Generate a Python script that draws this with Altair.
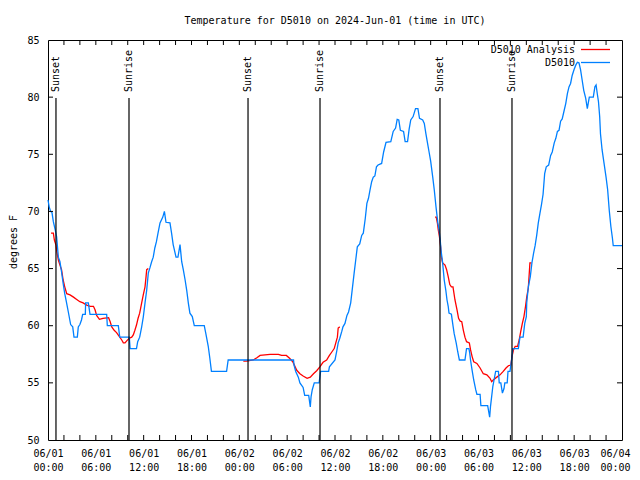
import altair as alt
import pandas as pd

# ---- data (hours since 2024-06-01 00:00 UTC, degrees F) ----
blue_h = [0.0, 0.15, 0.33, 0.5, 0.67, 0.9, 1.08, 1.3, 1.5, 1.7, 1.9, 2.1, 2.3, 2.55, 2.84, 3.1, 3.26, 3.68, 3.8, 4.0,
          4.2, 4.35, 4.68, 4.72, 5.06, 5.27, 7.36, 7.44, 8.82, 9.0, 10.2, 10.3, 11.1, 11.25, 11.5, 11.75, 11.96, 12.17,
          12.38, 12.58, 12.8, 13.0, 13.2, 13.4, 13.6, 13.8, 14.05, 14.4, 14.6, 14.8, 15.3, 15.5, 15.7, 16.06, 16.3,
          16.56, 16.77, 16.97, 17.2, 17.4, 17.6, 17.8, 18.1, 18.35, 19.6, 19.8, 20.1, 20.3, 20.5, 22.4, 22.6, 30.8,
          30.86, 31.07, 31.4, 31.6, 32.0, 32.2, 32.7, 32.9, 33.0, 33.15, 33.4, 34.0, 34.2, 35.2, 35.3, 36.0, 36.2,
          36.4, 36.6, 36.85, 37.0, 37.25, 37.5, 37.7, 37.97, 38.2, 38.4, 38.6, 38.8, 39.1, 39.35, 39.55, 39.8, 40.0,
          40.2, 40.4, 40.6, 40.8, 41.0, 41.2, 41.4, 41.85, 42.1, 42.4, 43.0, 43.3, 43.6, 43.8, 44.0, 44.2, 44.6,
          44.8, 45.1, 45.3, 45.5, 45.8, 46.1, 46.4, 46.6, 47.0, 47.2, 47.4, 47.6, 47.8, 48.0, 48.26, 48.45, 48.67,
          48.9, 49.05, 49.2, 49.3, 49.5, 49.7, 49.9, 50.05, 50.2, 50.3, 50.6, 50.8, 50.95, 51.2, 51.4, 51.6, 52.3,
          52.5, 52.8, 52.9, 53.0, 53.2, 53.4, 53.65, 53.8, 54.2, 54.3, 55.15, 55.4, 55.5, 55.65, 55.8, 55.95, 56.15,
          56.5, 56.6, 56.8, 57.0, 57.2, 57.3, 57.6, 57.7, 57.95, 58.15, 58.3, 59.0, 59.2, 59.6, 59.8, 60.0, 60.05,
          60.25, 60.5, 60.7, 60.9, 61.1, 61.3, 61.5, 61.7, 61.9, 62.1, 62.3, 62.5, 62.8, 63.05, 63.25, 63.5, 63.7,
          63.9, 64.1, 64.3, 64.5, 64.7, 64.95, 65.15, 65.35, 65.55, 65.75, 65.98, 66.2, 66.4, 66.6, 66.8, 67.0,
          67.2, 67.45, 67.65, 67.8, 67.9, 68.4, 68.6, 68.75, 68.9, 69.05, 69.2, 69.3, 69.5, 69.75, 70.0, 70.2,
          70.4, 70.6, 70.8, 70.9, 72.0]
blue_v = [71.0, 70.4, 70.0, 69.9, 69.1, 68.4, 67.8, 66.0, 65.6, 64.7, 63.7, 62.8, 62.1, 61.2, 60.1, 59.9, 59.0, 59.0,
          59.9, 60.1, 60.5, 61.0, 61.0, 62.0, 62.0, 61.0, 61.0, 60.0, 60.0, 59.0, 59.0, 58.0, 58.0, 58.6, 59.0, 59.9,
          60.8, 62.0, 63.1, 64.6, 65.1, 65.6, 66.0, 66.8, 67.35, 68.1, 69.0, 69.5, 70.0, 69.05, 69.0, 68.1, 67.1,
          66.0, 66.0, 67.1, 65.6, 64.9, 64.0, 63.1, 62.0, 61.1, 60.8, 60.0, 60.0, 59.3, 58.2, 57.15, 56.0, 56.0,
          57.0, 57.0, 56.56, 56.0, 55.5, 55.0, 54.6, 53.9, 53.9, 52.9, 53.8, 54.4, 55.0, 55.0, 56.0, 56.0, 56.4,
          57.0, 57.7, 58.5, 58.9, 59.5, 59.9, 60.2, 60.9, 61.2, 62.0, 63.4, 64.6, 65.75, 66.9, 67.15, 67.9, 68.1,
          69.4, 70.7, 71.15, 71.9, 72.6, 73.0, 73.1, 73.9, 74.06, 74.2, 75.2, 76.05, 76.1, 77.0, 77.3, 78.06, 78.0,
          77.1, 77.0, 76.1, 76.1, 77.2, 78.0, 78.3, 79.0, 79.0, 78.15, 78.0, 77.7, 76.8, 76.0, 75.2, 74.4, 73.0,
          71.9, 70.4, 69.0, 68.4, 67.5, 66.6, 65.5, 64.0, 63.1, 62.25, 61.7, 61.1, 61.0, 60.0, 59.3, 58.5, 57.7,
          57.0, 57.0, 58.0, 58.0, 57.6, 57.0, 56.1, 55.25, 54.4, 54.0, 54.0, 53.0, 53.0, 52.0, 52.9, 53.8, 54.7,
          55.25, 56.0, 56.0, 55.0, 55.0, 54.1, 54.5, 55.0, 55.0, 56.0, 56.0, 57.0, 58.0, 58.0, 59.0, 59.0, 60.2,
          60.8, 62.0, 63.4, 64.3, 65.5, 66.3, 67.0, 67.9, 69.0, 69.8, 70.6, 71.5, 73.3, 73.9, 74.06, 74.9, 75.2,
          76.0, 76.4, 77.0, 77.1, 77.9, 78.1, 78.7, 79.46, 80.3, 80.9, 81.2, 81.9, 82.4, 82.8, 83.05, 83.0, 82.4,
          81.5, 80.6, 79.9, 79.0, 79.6, 80.0, 80.0, 80.9, 81.06, 80.3, 79.6, 78.3, 76.8, 75.4, 74.2, 73.0, 71.9,
          70.1, 68.7, 67.65, 67.0, 67.0]

red1_h = [0.38, 0.67, 0.8, 1.0, 1.1, 1.3, 1.5, 1.7, 1.9, 2.1, 2.35, 2.76, 3.2, 3.6, 4.0, 4.4, 4.85, 5.3, 5.7, 5.9,
          6.1, 6.45, 6.9, 7.6, 7.8, 8.0, 8.3, 8.6, 9.0, 9.25, 9.45, 9.66, 9.9, 10.2, 10.5, 10.7, 10.9, 11.1, 11.3,
          11.5, 11.75, 11.95, 12.17, 12.3, 12.38, 12.58]
red1_v = [68.1, 68.1, 67.5, 67.06, 66.5, 65.75, 65.3, 64.9, 64.0, 63.4, 62.8, 62.7, 62.5, 62.3, 62.1, 62.0, 61.8,
          61.7, 61.7, 61.4, 60.9, 60.56, 60.65, 60.7, 60.35, 59.9, 59.6, 59.4, 59.0, 58.75, 58.5, 58.5, 58.7, 58.9,
          59.0, 59.2, 59.6, 60.06, 60.65, 61.1, 62.0, 62.7, 63.4, 64.3, 64.9, 65.0]
red2_h = [24.5, 24.9, 25.75, 26.2, 26.6, 27.85, 28.9, 29.3, 29.9, 30.3, 30.7, 31.0, 31.2, 31.6, 32.0, 32.5, 32.9,
          33.3, 33.7, 34.1, 34.5, 34.95, 35.3, 35.6, 35.9, 36.1, 36.3, 36.4, 36.6]
red2_v = [56.9, 56.9, 57.0, 57.2, 57.4, 57.5, 57.5, 57.4, 57.4, 57.15, 56.85, 56.4, 56.1, 55.8, 55.6, 55.4, 55.5,
          55.8, 56.06, 56.4, 56.8, 57.0, 57.4, 57.7, 58.0, 58.5, 59.0, 59.8, 59.9]
red3_h = [48.55, 48.7, 48.85, 48.95, 49.1, 49.25, 49.35, 49.5, 49.8, 50.0, 50.2, 50.4, 50.6, 50.8, 51.05, 51.3,
          51.5, 51.7, 51.9, 52.1, 52.3, 52.5, 52.85, 53.0, 53.2, 53.4, 53.8, 54.2, 54.6, 55.05, 55.45, 55.65, 55.85,
          56.3, 56.7, 57.1, 57.45, 57.75, 58.05, 58.2, 58.4, 58.6, 58.9, 59.1, 59.3, 59.5, 59.7, 59.9, 60.05,
          60.25, 60.45, 60.65]
red3_v = [69.5, 69.5, 68.96, 68.4, 67.8, 66.9, 66.0, 65.5, 65.3, 64.9, 64.3, 63.6, 63.4, 63.4, 62.25, 61.4, 60.65,
          60.4, 60.35, 59.6, 59.0, 58.6, 58.5, 57.9, 57.3, 56.85, 56.7, 56.3, 55.8, 55.7, 55.4, 55.1, 55.25, 55.5,
          55.7, 56.0, 56.3, 56.5, 56.56, 57.3, 57.9, 58.2, 58.2, 58.75, 59.5, 60.2, 60.8, 61.7, 62.5, 63.3, 65.5,
          65.5]

sun_h = [1.0, 10.16, 25.09, 34.12, 49.17, 58.2]
sun_label = ["Sunset", "Sunrise", "Sunset", "Sunrise", "Sunset", "Sunrise"]

x_tick_values = [0, 6, 12, 18, 24, 30, 36, 42, 48, 54, 60, 66, 72]
x_minor_ticks = [2, 4, 6, 8, 10, 12, 14, 16, 18, 20, 22, 24, 26, 28, 30, 32, 34, 36, 38, 40, 42, 44, 46, 48,
                 50, 52, 54, 56, 58, 60, 62, 64, 66, 68, 70]
y_tick_values = [50, 55, 60, 65, 70, 75, 80, 85]
y_inner_ticks = [55, 60, 65, 70, 75, 80]

series_names = ["D5010 Analysis", "D5010"]
series_colors = ["#ff0000", "#0080ff"]
title_text = "Temperature for D5010 on 2024-Jun-01 (time in UTC)"
y_title = "degrees F"

FONT = "DejaVu Sans Mono"
W, H = 574, 400

blue_df = pd.DataFrame({"h": blue_h, "v": blue_v})
red_df = pd.concat([
    pd.DataFrame({"h": red1_h, "v": red1_v, "seg": 1}),
    pd.DataFrame({"h": red2_h, "v": red2_v, "seg": 2}),
    pd.DataFrame({"h": red3_h, "v": red3_v, "seg": 3}),
])
sun_df = pd.DataFrame({"h": sun_h, "label": sun_label})
xt_df = pd.DataFrame({"h": x_minor_ticks})
yt_df = pd.DataFrame({"v": y_inner_ticks})

x_axis = alt.Axis(
    values=x_tick_values,
    labelExpr="['06/0' + (floor(datum.value/24)+1), (datum.value % 24 < 10 ? '0' : '') + (datum.value % 24) + ':00']",
    labelFlush=False, labelOverlap=False, labelPadding=8, labelLineHeight=14,
    labelOffset={"expr": "datum.value >= 72 ? -7 : 0"},
    ticks=False, domain=False, grid=False, title=None,
)
y_axis = alt.Axis(values=y_tick_values, labelPadding=9, ticks=False, domain=False, grid=False, title=None,
                  labelFlush=False, labelOverlap=False)

xs = alt.Scale(domain=[0, 72], nice=False, zero=False)
ys = alt.Scale(domain=[50, 85], nice=False, zero=False)


def X():
    return alt.X("h:Q", scale=xs, axis=x_axis, title=None)


def Y():
    return alt.Y("v:Q", scale=ys, axis=y_axis, title=None)


red = alt.Chart(red_df).mark_line(color=series_colors[0], strokeWidth=1.3).encode(
    x=X(), y=Y(), detail="seg:N", order="h:Q")
blue = alt.Chart(blue_df).mark_line(color=series_colors[1], strokeWidth=1.3).encode(
    x=X(), y=Y(), order="h:Q")

sun_rules = alt.Chart(sun_df).mark_rule(color="black", strokeWidth=1.2).encode(
    x=X(), y=alt.value(58), y2=alt.value(H))
sun_text = alt.Chart(sun_df).mark_text(angle=270, align="left", baseline="middle", font=FONT, fontSize=10,
                                       color="black").encode(x=X(), y=alt.value(52), text="label:N")

xt_bottom = alt.Chart(xt_df).mark_rule(color="black").encode(x=X(), y=alt.value(H), y2=alt.value(H - 5))
xt_top = alt.Chart(xt_df).mark_rule(color="black").encode(x=X(), y=alt.value(0), y2=alt.value(5))
yt_left = alt.Chart(yt_df).mark_rule(color="black").encode(y=Y(), x=alt.value(0), x2=alt.value(5))
yt_right = alt.Chart(yt_df).mark_rule(color="black").encode(y=Y(), x=alt.value(W), x2=alt.value(W - 5))

leg_layers = []
for i, (nm, col) in enumerate(zip(series_names, series_colors)):
    d = pd.DataFrame({"name": [nm]})
    yy = 9.5 + 13 * i
    leg_layers.append(alt.Chart(d).mark_text(align="right", baseline="middle", font=FONT, fontSize=10,
                                             color="black").encode(x=alt.value(527), y=alt.value(yy), text="name:N"))
    leg_layers.append(alt.Chart(d).mark_rule(color=col, strokeWidth=1.3).encode(
        x=alt.value(533), x2=alt.value(562), y=alt.value(yy)))

title_mark = alt.Chart(pd.DataFrame({"t": [title_text]})).mark_text(
    align="center", baseline="middle", font=FONT, fontSize=10, color="black").encode(
    x=alt.value(W / 2), y=alt.value(-19), text="t:N")
ytitle_mark = alt.Chart(pd.DataFrame({"t": [y_title]})).mark_text(
    align="center", baseline="middle", angle=270, font=FONT, fontSize=10, color="black").encode(
    x=alt.value(-34), y=alt.value(202), text="t:N")

chart = alt.layer(red, blue, sun_rules, sun_text, xt_bottom, xt_top, yt_left, yt_right,
                  *leg_layers, title_mark, ytitle_mark).properties(
    width=W, height=H,
    autosize=alt.AutoSizeParams(type="none"),
    padding={"left": 40, "top": 32, "right": 10, "bottom": 32},
    background="white",
).configure_view(stroke="black", strokeWidth=1).configure_axis(
    labelFont=FONT, labelFontSize=10, labelColor="black",
)

chart.save("out.html", embed_options={"renderer": "svg", "actions": False})
